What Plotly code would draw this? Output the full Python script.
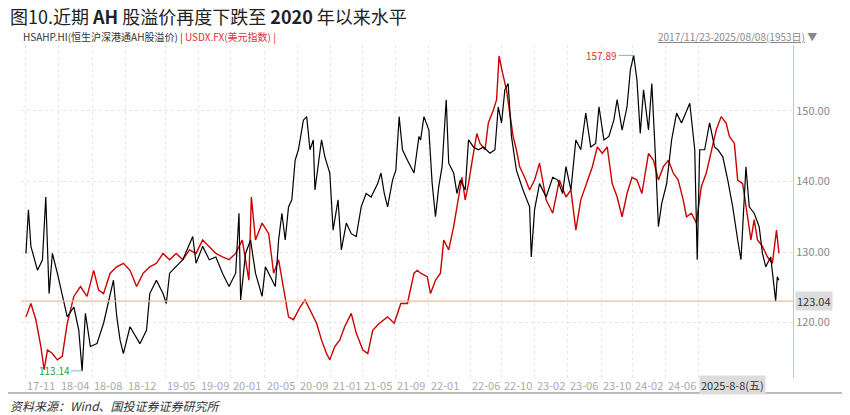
import plotly.graph_objects as go

# x is months since 2017-11-23
ah_month = [0.1, 0.4, 0.7, 1.5, 2.1, 2.5, 2.9, 3.3, 3.9, 4.5, 5.1, 5.9, 6.5, 6.9, 7.3, 7.9, 8.7, 9.5, 10.3, 10.7,
            11.1, 11.5, 11.9, 12.7, 13.9, 14.7, 15.1, 15.9, 16.7, 17.1, 17.5, 18.3, 19.1, 20.3, 20.7, 21.5, 22.3, 23.1,
            23.9, 24.7, 25.5, 25.9, 26.1, 26.7, 27.3, 27.9, 28.7, 29.1, 29.9, 30.3, 30.7, 31.1, 31.5, 31.9, 32.3, 32.7,
            33.1, 33.7, 34.1, 34.5, 34.9, 35.1, 35.9, 36.3, 36.9, 37.3, 37.9, 38.3, 38.9, 39.5, 40.1, 40.7, 41.3, 41.9,
            42.7, 43.1, 43.5, 43.9, 44.5, 44.9, 45.3, 45.7, 46.3, 47.1, 47.7,
            47.9, 48.3, 48.9, 49.3, 49.7, 50.1, 50.5, 51.0, 51.3, 51.9, 52.3, 52.7, 53.3, 53.7, 54.3, 54.9, 55.5, 56.3,
            56.9, 57.3, 57.7, 58.1, 58.5, 58.9, 59.5, 60.3, 61.1, 61.3, 61.7, 62.3, 63.1, 63.9, 64.5, 65.1, 65.5, 66.1,
            66.7, 67.3, 67.9, 68.5, 69.1, 69.5, 70.1, 70.7, 71.3, 71.7, 72.3, 72.9, 73.3, 73.7, 74.1, 74.5, 74.9, 75.5,
            75.9, 76.3, 76.7, 77.1, 77.7, 78.3, 78.9, 79.5, 80.5, 81.1, 81.4, 81.7, 82.3, 82.9, 83.5, 83.9, 84.5, 85.1,
            85.7, 86.3, 86.7, 87.3, 87.7, 88.3, 88.9, 89.3, 89.7, 90.3, 90.9, 91.1, 91.3]
ah_value = [129.8, 136.0, 130.8, 127.4, 128.9, 137.8, 124.1, 129.8, 127.0, 123.7, 120.8, 122.2, 118.9, 113.14, 121.3,
            116.6, 117.0, 119.9, 124.1, 126.0, 120.8, 117.5, 115.6, 119.4, 117.0, 118.9, 124.1, 126.0, 124.1, 122.7,
            127.0, 127.9, 128.9, 132.2, 128.4, 130.8, 128.9, 129.3, 127.0, 125.1, 127.0, 135.5, 123.2, 129.8, 131.7,
            127.0, 123.7, 127.9, 126.0, 125.1, 131.7, 135.5, 131.7, 136.4, 137.4, 143.0, 144.5, 148.7, 149.2, 144.5,
            145.9, 138.8, 145.9, 143.5, 141.2, 133.1, 137.4, 130.3, 134.1, 132.6, 132.2, 136.4, 138.3, 137.8, 139.7,
            141.2, 138.3, 136.4, 140.2, 141.6, 149.2, 144.5, 143.0, 141.2, 146.4,
            145.9, 149.2, 147.3, 139.7, 135.0, 139.3, 142.1, 151.6, 142.6, 141.2, 138.3, 140.2, 138.8, 145.9, 144.9,
            144.5, 144.9, 144.0, 144.5, 150.6, 148.3, 153.0, 153.9, 146.4, 141.6, 138.8, 136.4, 129.3, 136.0, 139.7,
            137.8, 140.6, 140.2, 138.3, 142.1, 138.8, 145.9, 144.5, 149.7, 144.9, 145.4, 150.6, 145.9, 146.4, 148.7,
            151.6, 147.3, 150.6, 155.8, 157.89, 154.4, 146.8, 153.0, 147.3, 153.9, 144.5, 133.6, 136.9, 139.7, 145.9,
            149.7, 148.3, 151.1, 144.5, 128.9, 144.5, 144.5, 148.3, 144.9, 144.5, 143.5, 140.2, 136.4, 131.7, 128.9,
            142.1, 136.4, 135.5, 133.6, 129.8, 127.9, 129.3, 123.04, 126.5, 126.0]

usd_month = [0.1, 0.7, 1.3, 1.9, 2.3, 2.7, 3.3, 3.9, 4.5, 5.1, 5.9, 6.7, 7.5, 8.3, 8.9, 9.5, 10.3, 11.1, 11.9, 12.7,
             13.5, 14.3, 15.1, 15.9, 16.7, 17.5, 18.3, 19.1, 19.9, 20.7, 21.5, 22.3, 23.1, 23.9, 24.7, 25.5, 26.3,
             27.1, 27.4, 27.9, 28.7, 29.5, 30.1, 30.7, 31.5, 31.9, 32.5, 33.3, 33.9, 34.5, 35.3, 35.9, 36.5, 36.9,
             37.5, 38.1, 38.7, 39.5, 40.1, 40.9, 41.5, 42.1, 42.9, 43.9, 44.7, 45.5, 46.3, 47.1, 47.5,
             47.9, 48.7, 49.1, 49.7, 50.3, 50.7, 51.3, 51.9, 52.5, 52.9, 53.3, 53.7, 54.1, 54.7, 55.1, 55.7, 56.1,
             56.7, 57.1, 57.4, 57.8, 58.3, 58.7, 59.1, 59.5, 59.9, 60.5, 61.1, 61.7, 62.3, 63.1, 63.9, 64.7, 65.5,
             66.1, 66.7, 67.3, 67.9, 68.7, 69.3, 69.9, 70.5, 71.1, 71.7, 72.3, 72.9, 73.5, 74.1, 74.7, 75.5, 76.1,
             76.7, 77.3, 77.9, 78.5, 79.1, 79.7, 80.1, 80.7, 81.3, 81.9, 82.5, 83.1, 83.7, 84.3, 84.9, 85.3, 85.9,
             86.3, 86.9, 87.5, 87.9, 88.3, 88.7, 89.3, 89.9, 90.5, 91.0, 91.3]
usd_value = [120.8, 122.7, 120.4, 116.6, 113.3, 116.1, 115.6, 114.7, 115.2, 119.9, 123.7, 125.1, 123.7, 127.4, 124.6,
             124.1, 127.0, 127.9, 128.4, 127.4, 125.1, 127.0, 127.9, 128.4, 129.8, 128.9, 129.8, 128.9, 130.3, 129.8,
             131.7, 130.8, 129.8, 129.3, 128.9, 129.8, 131.7, 126.0, 137.8, 131.7, 134.1, 132.6, 127.0, 128.9, 123.2,
             120.8, 120.4, 122.2, 123.2, 121.7, 119.9, 117.5, 115.6, 114.7, 116.6, 117.5, 119.4, 121.3, 118.5, 116.1,
             115.6, 118.9, 119.9, 120.8, 119.9, 122.7, 122.7, 127.0, 127.4,
             127.0, 126.5, 124.1, 126.0, 127.0, 131.7, 130.3, 133.6, 137.8, 140.6, 137.4, 139.7, 142.6, 146.8, 145.4,
             144.5, 148.3, 150.1, 151.6, 157.8, 155.5, 153.0, 149.7, 146.4, 144.5, 142.1, 140.6, 138.8, 140.2, 142.6,
             137.4, 135.5, 140.2, 137.8, 138.8, 133.1, 137.4, 139.3, 142.1, 144.9, 144.0, 144.9, 139.7, 137.8, 135.0,
             138.3, 140.6, 140.2, 138.3, 144.0, 143.0, 140.2, 142.1, 143.0, 141.2, 140.2, 137.4, 135.0, 135.5, 134.1,
             139.3, 141.2, 144.5, 147.3, 149.2, 148.3, 146.4, 145.4, 140.2, 139.7, 135.0, 131.7, 134.6, 131.7, 130.8,
             129.3, 128.4, 133.1, 129.8]

tick_month = [0, 4.1, 8.1, 12.2, 17.0, 21.0, 24.9, 29.0, 33.0, 37.0, 40.8, 44.8, 48.9, 53.9, 57.7, 61.7, 65.7,
              69.8, 73.6, 77.6]
tick_text = ['17-11', '18-04', '18-08', '18-12', '19-05', '19-09', '20-01', '20-05', '20-09', '21-01', '21-05',
             '21-09', '22-01', '22-06', '22-10', '23-02', '23-06', '23-10', '24-02', '24-06']
end_month = 81.6
y_ticks = [120, 130, 140, 150]
last_low = 123.04

GREY = '#888888'
ORANGE = '#f5b98a'
fig = go.Figure()
fig.add_trace(go.Scatter(x=usd_month, y=usd_value, mode='lines', line=dict(color='#cc0000', width=1.4),
                         name='USDX.FX'))
fig.add_trace(go.Scatter(x=ah_month, y=ah_value, mode='lines', line=dict(color='#000000', width=1.2),
                         name='HSAHP.HI'))
fig.add_hline(y=last_low, line=dict(color=ORANGE, width=1.2))

# page has an 8px body margin, so the figure is sized to fit the window
fig.update_layout(
    width=842, height=407, showlegend=False,
    margin=dict(l=13, r=57, t=37, b=37),
    paper_bgcolor='white', plot_bgcolor='white',
    font=dict(family='Noto Sans CJK SC, sans-serif', color=GREY, size=11),
    xaxis=dict(range=[-0.5, 93.0], tickvals=tick_month + [end_month], showticklabels=False, showgrid=True,
               gridcolor='#e6e6e6', griddash='dot', zeroline=False, showline=False, ticks=''),
    yaxis=dict(range=[112.13, 159.36], side='right', tickvals=y_ticks,
               ticktext=['%.2f' % v for v in y_ticks], showgrid=True, gridcolor='#e6e6e6', griddash='dot',
               zeroline=False, showline=True, linecolor=ORANGE, ticks='',
               tickfont=dict(size=11, color=GREY)),
)

for m, t in zip(tick_month, tick_text):
    fig.add_annotation(x=m, y=0, xref='x', yref='paper', text=t, showarrow=False, xanchor='left',
                       yanchor='middle', yshift=-7, font=dict(size=11, color='#aaaaaa'))
fig.add_annotation(x=end_month, y=0, xref='x', yref='paper', text='2025-8-8(五)', showarrow=False,
                   xanchor='left', yanchor='middle', yshift=-7, bgcolor='#dcdcdc',
                   font=dict(size=11, color='#333333'))
fig.add_annotation(x=1.0, y=last_low, xref='paper', yref='y', text='%.2f' % last_low, showarrow=False,
                   xanchor='left', xshift=2, bgcolor='#dcdcdc', font=dict(size=11, color='#333333'))
fig.add_annotation(x=73.7, y=157.89, text='157.89', showarrow=True, ax=-32, ay=0, arrowcolor='#7fb3d5',
                   arrowwidth=1, arrowhead=0, font=dict(size=10, color='#e03030'))
fig.add_annotation(x=6.9, y=113.14, text='113.14', showarrow=True, ax=-28, ay=0, arrowcolor='#7fb3d5',
                   arrowwidth=1, arrowhead=0, font=dict(size=10, color='#2a9d2a'))

fig.add_annotation(x=0, y=1, xref='paper', yref='paper', xanchor='left', yanchor='middle', yshift=9,
                   text='HSAHP.HI(恒生沪深港通AH股溢价) | <span style="color:#e03030">USDX.FX(美元指数) |</span>',
                   showarrow=False, font=dict(size=10, color='#333333'))
fig.add_annotation(x=1, y=1, xref='paper', yref='paper', xanchor='right', yanchor='middle', yshift=9, xshift=26,
                   text='<u>2017/11/23-2025/08/08(1953日)</u> ▼', showarrow=False, font=dict(size=10, color=GREY))
fig.add_annotation(x=0, y=1, xref='paper', yref='paper', xanchor='left', yanchor='middle', xshift=-13, yshift=29,
                   text='图10.近期 <b>AH</b> 股溢价再度下跌至 <b>2020</b> 年以来水平', showarrow=False,
                   font=dict(size=18, color='#222222'))
fig.add_annotation(x=0, y=0, xref='paper', yref='paper', xanchor='left', yanchor='middle', xshift=-13, yshift=-27,
                   text='<i>资料来源：Wind、国投证券证券研究所</i>', showarrow=False,
                   font=dict(size=12, color='#333333'))
fig.add_shape(type='line', xref='paper', yref='paper', x0=-0.017, x1=1.07, y0=-0.045, y1=-0.045,
              line=dict(color='#777777', width=1))

fig.write_html("out.html")
